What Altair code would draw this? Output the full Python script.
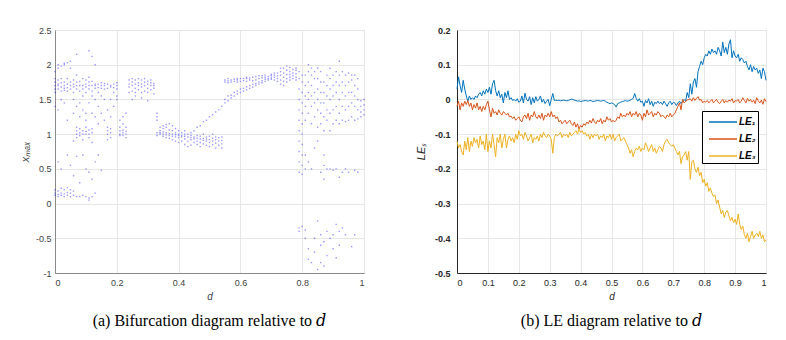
import altair as alt
import pandas as pd

# ---------------- Bifurcation diagram data (columns of x_max per d) ----------------
bif_cols = [
    [1.65,1.7,1.75,1.8,1.6,0.12,0.15,0.2,1.9,1.4],
    [1.65,1.7,1.72,1.78,2.0,1.95,0.1,0.13,0.18,0.6,1.35],
    [1.62,1.68,1.74,1.8,1.98,0.12,0.15,0.22,0.5,1.5],
    [1.63,1.66,1.7,1.75,2.0,2.02,0.1,0.14,0.2,1.45],
    [1.62,1.67,1.72,1.8,2.03,0.12,0.16,0.23,0.7,1.2],
    [1.65,1.7,1.75,1.95,2.05,0.1,0.15,0.2,0.55],
    [1.6,1.68,1.72,1.78,1.5,1.3,0.12,0.18,0.4,0.9],
    [1.65,1.7,1.75,1.85,2.15,1.0,1.05,1.1,0.95,0.1,0.68,1.4],
    [1.62,1.7,1.76,1.45,1.02,1.08,0.98,0.1,0.3,1.25],
    [1.65,1.7,1.8,1.55,1.0,1.05,0.92,0.12,0.7,1.35],
    [1.6,1.68,1.72,1.78,1.3,1.0,1.04,1.1,0.1,0.5,1.2],
    [1.65,1.7,1.75,1.82,2.2,1.0,1.06,0.95,0.05,0.08,0.45,1.45],
    [1.62,1.7,1.76,2.12,1.02,1.08,0.88,0.1,0.35,1.3,1.55],
    [1.66,1.7,1.72,2.0,1.5,0.15,0.6,1.25],
    [1.67,1.72,1.6,1.4,1.15,0.7],
    [1.66,1.7,1.74,1.55,1.3,0.48],
    [1.65,1.7,1.73,1.5,1.2],
    [1.66,1.72,1.0,1.05,1.1,0.92,1.35],
    [1.68,1.7,1.02,1.08,0.95,1.5,1.25],
    [1.67,1.72,1.6,1.4],
    [1.65,1.7,1.74,1.5,1.55],
    [1.0,1.05,1.1,1.2,0.98],
    [0.98,1.02,1.06,1.15,1.25],
    [1.0,1.04,1.1,1.3,0.95],
    [1.6,1.68,1.72,1.78],
    [1.62,1.7,1.75,1.8,1.5],
    [1.6,1.66,1.72,1.78,1.55],
    [1.64,1.7,1.74,1.8],
    [1.6,1.68,1.72,1.78,1.52],
    [1.62,1.7,1.75,1.8],
    [1.6,1.66,1.72,1.76,1.48],
    [1.64,1.7,1.74,1.78],
    [1.66,1.7,1.73,1.58],
    [1.2,1.25,1.3,1.02,0.98],
    [1.0,1.02,1.05,1.1],
    [0.97,1.0,1.03,1.08,1.12],
    [0.95,0.99,1.02,1.1,1.14],
    [0.94,0.98,1.01,1.06,1.15],
    [0.92,0.97,1.0,1.05,1.12],
    [0.9,0.96,0.99,1.02,1.08],
    [0.88,0.95,0.98,1.0,1.05],
    [0.9,0.96,0.98,1.02],
    [0.85,0.93,0.97,1.0,1.05],
    [0.82,0.9,0.96,1.0],
    [0.84,0.92,0.95,0.98,1.02],
    [0.88,0.93,0.96,1.05],
    [0.85,0.9,0.94,0.98,1.1],
    [0.82,0.88,0.93,0.97,1.12],
    [0.86,0.91,0.94,1.0,1.18],
    [0.84,0.9,0.93,0.96,1.2],
    [0.82,0.88,0.92,0.97,1.25],
    [0.85,0.9,0.94,1.0,1.28],
    [0.8,0.87,0.92,0.96,1.32],
    [0.84,0.9,0.95,1.35],
    [0.8,0.86,0.91,0.96,1.4],
    [1.45,1.5,1.75,1.78],
    [1.48,1.55,1.74,1.77,1.8],
    [1.52,1.56,1.75,1.78],
    [1.55,1.6,1.76,1.79],
    [1.58,1.62,1.75,1.78,1.8],
    [1.6,1.65,1.76,1.8],
    [1.62,1.66,1.77,1.8],
    [1.64,1.68,1.76,1.8,1.82],
    [1.66,1.7,1.78,1.81],
    [1.68,1.72,1.77,1.82],
    [1.7,1.73,1.78,1.83],
    [1.72,1.75,1.8,1.84],
    [1.74,1.77,1.81,1.84],
    [1.76,1.79,1.82,1.85],
    [1.78,1.8,1.83],
    [1.79,1.81,1.84,1.86],
    [1.78,1.82,1.85,1.88],
    [1.76,1.8,1.84,1.88],
    [1.72,1.78,1.85,1.9,1.95],
    [1.7,1.76,1.82,1.88,1.95],
    [1.75,1.8,1.86,1.92,1.98],
    [1.78,1.82,1.86,1.9,1.96],
    [1.8,1.84,1.88,1.93],
    [1.78,1.82,1.87,1.92,1.95],
    [0.45,0.6,0.75,0.9,1.05,1.2,1.35,1.5,1.65,1.8,1.9,-0.35,-0.4],
    [0.42,0.55,0.7,0.85,1.0,1.15,1.3,1.45,1.6,1.75,1.85,-0.33],
    [1.2,1.4,1.55,1.7,1.85,0.5,0.7,-0.38,-0.5],
    [1.3,1.5,1.6,1.75,1.9,2.0,0.6,-0.65,-0.8],
    [1.15,1.4,1.55,1.7,1.85,1.95,0.5,-0.85],
    [1.25,1.45,1.6,1.8,1.9,0.8,-0.5,-0.7],
    [1.1,1.35,1.5,1.65,1.8,1.95,0.9,-0.25,-0.95],
    [1.15,1.3,1.45,1.6,1.75,1.9,0.45,-0.45,-0.6,-0.85],
    [1.05,1.25,1.45,1.6,1.75,0.55,0.7,0.35,-0.55,-0.9],
    [1.2,1.35,1.55,1.7,1.85,0.5,-0.4,-0.75],
    [1.05,1.3,1.5,1.65,1.8,1.95,0.5,-0.5],
    [1.15,1.35,1.55,1.7,1.85,0.48,-0.45,-0.65],
    [1.2,1.4,1.6,1.75,1.9,0.5,-0.3,-0.78],
    [1.15,1.3,1.5,1.7,1.85,2.05,0.38,-0.4,-0.6],
    [1.2,1.4,1.6,1.75,1.9,0.45,-0.35],
    [1.18,1.35,1.55,1.7,1.85,0.5,-0.45],
    [1.2,1.4,1.6,1.75,1.88,0.45],
    [1.25,1.45,1.6,1.78,1.85,-0.62],
    [1.2,1.4,1.55,1.7,1.85,0.48,-0.45],
    [1.22,1.35,1.5,1.65,1.8,0.45],
    [1.25,1.32,1.4,1.48],
    [1.28,1.35,1.42,1.5],
]

# ---------------- Lyapunov exponents (d step 0.005) ----------------
le1 = [0.03,0.065,0.04,0.02,0.055,0.03,0.01,-0.005,0.01,0.0,0.005,
       0.0,0.01,0.005,0.015,0.02,0.01,0.025,0.015,0.03,0.02,
       0.035,0.015,0.045,0.055,0.025,0.01,0.025,0.005,0.015,-0.01,
       0.02,0.005,0.025,0.0,0.005,-0.003,0.0,-0.005,0.002,-0.008,
       -0.005,0.01,-0.01,0.018,0.0,-0.005,0.008,-0.015,0.005,-0.01,
       0.008,-0.005,0.0,0.01,-0.008,0.0,-0.012,-0.005,0.0,-0.018,
       0.0,0.017,-0.003,-0.002,-0.003,-0.002,-0.004,-0.003,-0.002,-0.003,
       -0.004,-0.003,-0.001,0.001,0.0,-0.002,-0.003,-0.005,-0.004,-0.006,
       -0.005,-0.004,-0.003,-0.004,-0.005,-0.003,-0.004,-0.006,-0.005,-0.004,
       -0.003,-0.004,-0.005,-0.004,-0.003,-0.005,-0.008,-0.01,-0.012,-0.01,
       -0.012,-0.015,-0.022,-0.012,-0.01,-0.008,-0.006,-0.005,-0.003,-0.005,
       -0.004,-0.002,0.0,0.003,0.017,0.003,-0.005,0.002,-0.008,-0.005,
       -0.02,-0.003,-0.01,0.002,-0.015,-0.005,-0.02,-0.008,-0.012,-0.005,
       -0.012,-0.008,-0.015,-0.005,-0.012,-0.02,-0.01,-0.005,-0.015,-0.008,
       -0.01,-0.018,-0.01,-0.005,-0.012,-0.005,0.0,-0.005,0.02,0.005,
       0.045,0.015,0.05,0.06,0.035,0.08,0.095,0.11,0.1,0.12,
       0.13,0.125,0.14,0.13,0.145,0.135,0.14,0.13,0.15,0.14,
       0.125,0.165,0.135,0.15,0.13,0.16,0.172,0.12,0.14,0.125,
       0.12,0.13,0.11,0.12,0.115,0.105,0.11,0.095,0.085,0.1,
       0.08,0.095,0.085,0.09,0.075,0.085,0.06,0.09,0.08,0.055]

le2 = [-0.02,-0.005,-0.03,-0.01,-0.02,-0.005,-0.015,-0.003,-0.02,-0.01,-0.03,
       -0.015,-0.025,-0.01,-0.03,-0.02,-0.035,-0.02,-0.03,-0.015,-0.005,
       -0.03,-0.05,-0.025,-0.04,-0.035,-0.045,-0.03,-0.04,-0.045,-0.035,
       -0.04,-0.045,-0.04,-0.05,-0.048,-0.055,-0.05,-0.06,-0.055,-0.05,
       -0.06,-0.065,-0.05,-0.045,-0.055,-0.04,-0.06,-0.045,-0.05,-0.035,
       -0.05,-0.055,-0.045,-0.055,-0.04,-0.06,-0.045,-0.05,-0.04,-0.05,
       -0.035,-0.05,-0.045,-0.055,-0.05,-0.065,-0.06,-0.07,-0.065,-0.06,
       -0.07,-0.065,-0.06,-0.07,-0.075,-0.065,-0.08,-0.07,-0.085,-0.075,
       -0.08,-0.07,-0.075,-0.065,-0.07,-0.06,-0.068,-0.055,-0.065,-0.07,
       -0.06,-0.065,-0.055,-0.07,-0.06,-0.065,-0.05,-0.06,-0.055,-0.065,
       -0.06,-0.065,-0.06,-0.05,-0.055,-0.04,-0.05,-0.045,-0.05,-0.04,
       -0.045,-0.035,-0.05,-0.04,-0.045,-0.035,-0.05,-0.04,-0.045,-0.06,
       -0.04,-0.05,-0.03,-0.045,-0.04,-0.035,-0.05,-0.04,-0.045,-0.035,
       -0.04,-0.05,-0.045,-0.05,-0.055,-0.045,-0.05,-0.04,-0.05,-0.045,
       -0.04,-0.03,-0.02,-0.01,-0.03,0.0,-0.01,-0.005,-0.002,0.0,
       0.002,-0.005,0.005,-0.003,0.003,0.008,-0.002,0.0,-0.01,-0.005,
       -0.008,-0.003,-0.01,-0.005,0.0,-0.01,-0.005,0.0,-0.008,-0.012,
       -0.005,0.0,-0.01,-0.003,-0.008,-0.002,-0.005,0.002,-0.01,-0.003,
       -0.005,0.0,-0.01,-0.005,0.005,-0.003,-0.01,0.003,-0.005,0.0,
       -0.008,-0.002,-0.012,0.005,-0.004,-0.01,-0.002,-0.014,0.002,-0.006]

le3 = [-0.12,-0.14,-0.13,-0.15,-0.16,-0.12,-0.145,-0.11,-0.15,-0.12,-0.135,
       -0.11,-0.125,-0.115,-0.14,-0.105,-0.13,-0.12,-0.145,-0.1,-0.15,
       -0.12,-0.14,-0.1,-0.13,-0.165,-0.11,-0.125,-0.1,-0.14,-0.115,
       -0.1,-0.14,-0.115,-0.105,-0.12,-0.11,-0.125,-0.1,-0.115,-0.09,
       -0.105,-0.1,-0.115,-0.095,-0.105,-0.12,-0.11,-0.1,-0.125,-0.11,
       -0.115,-0.105,-0.12,-0.1,-0.11,-0.095,-0.105,-0.11,-0.1,-0.105,
       -0.115,-0.155,-0.11,-0.1,-0.105,-0.1,-0.095,-0.11,-0.1,-0.105,
       -0.1,-0.11,-0.095,-0.105,-0.1,-0.095,-0.09,-0.1,-0.085,-0.095,
       -0.09,-0.1,-0.095,-0.105,-0.1,-0.115,-0.1,-0.11,-0.1,-0.105,
       -0.1,-0.115,-0.105,-0.11,-0.1,-0.12,-0.105,-0.11,-0.1,-0.115,
       -0.1,-0.12,-0.11,-0.105,-0.1,-0.12,-0.115,-0.11,-0.12,-0.13,
       -0.14,-0.155,-0.145,-0.165,-0.15,-0.14,-0.145,-0.135,-0.15,-0.14,
       -0.145,-0.125,-0.135,-0.15,-0.14,-0.13,-0.15,-0.14,-0.155,-0.145,
       -0.135,-0.14,-0.15,-0.13,-0.12,-0.115,-0.125,-0.13,-0.135,-0.13,
       -0.14,-0.15,-0.16,-0.15,-0.185,-0.165,-0.16,-0.15,-0.175,-0.15,
       -0.23,-0.18,-0.175,-0.2,-0.21,-0.195,-0.22,-0.21,-0.24,-0.23,
       -0.25,-0.24,-0.265,-0.255,-0.27,-0.28,-0.275,-0.3,-0.29,-0.31,
       -0.33,-0.32,-0.34,-0.325,-0.32,-0.335,-0.35,-0.34,-0.355,-0.345,
       -0.36,-0.33,-0.36,-0.375,-0.365,-0.39,-0.4,-0.385,-0.41,-0.395,
       -0.38,-0.4,-0.39,-0.385,-0.395,-0.38,-0.4,-0.39,-0.41,-0.405]

series_names = ["LE\u2081", "LE\u2082", "LE\u2083"]
series_colors = ["#0072BD", "#D95319", "#EDB120"]

left_xticks = [0, 0.2, 0.4, 0.6, 0.8, 1]
left_yticks = [-1, -0.5, 0, 0.5, 1, 1.5, 2, 2.5]
right_xticks = [0, 0.1, 0.2, 0.3, 0.4, 0.5, 0.6, 0.7, 0.8, 0.9, 1]
right_yticks = [-0.5, -0.4, -0.3, -0.2, -0.1, 0, 0.1, 0.2]

# ---------------- tables ----------------
bif_rows = []
for i, col in enumerate(bif_cols):
    d = i / 100
    for v in col:
        bif_rows.append({"d": d, "x": v})
bif_df = pd.DataFrame(bif_rows)

le_rows = []
for name, vals in zip(series_names, [le1, le2, le3]):
    for i, v in enumerate(vals):
        le_rows.append({"d": i * 0.005, "v": v, "s": name})
le_df = pd.DataFrame(le_rows)

FONT = "Liberation Sans"
W, H = 309, 243
lbl = "'' + datum.value"

def caption(text):
    return alt.TitleParams(text, orient="bottom", anchor="middle",
                           font="Liberation Serif, DejaVu Serif",
                           fontSize=16, fontWeight="normal", color="#000000", offset=12)

left = alt.Chart(bif_df).mark_point(shape="square", filled=True, size=2, color="#0000ff",
                                    opacity=0.4).encode(
    x=alt.X("d:Q", scale=alt.Scale(domain=[0, 1], nice=False, zero=False),
            axis=alt.Axis(values=left_xticks, labelExpr=lbl, title="d", titleFontStyle="italic",
                          titleFontWeight="normal", titleFontSize=10, titleColor="#404040",
                          titlePadding=4, labelFontSize=9, labelColor="#404040", labelPadding=5,
                          ticks=False, domainColor="#8a8a8a", gridColor="#e6e6e6", labelFont=FONT,
                          titleFont=FONT)),
    y=alt.Y("x:Q", scale=alt.Scale(domain=[-1, 2.5], nice=False, zero=False),
            axis=alt.Axis(values=left_yticks, labelExpr=lbl, title="x\u2098\u2090\u2093",
                          titleFontStyle="italic", titleFontWeight="normal", titleFontSize=11,
                          titleColor="#404040", titlePadding=5, labelFontSize=9,
                          labelColor="#404040", labelPadding=4, ticks=False,
                          domainColor="#8a8a8a", gridColor="#e6e6e6", labelFont=FONT,
                          titleFont=FONT)),
).properties(width=W, height=H, view=alt.ViewBackground(stroke="#8a8a8a"),
             title=caption("(a) Bifurcation diagram relative to \U0001D451"))

right = alt.Chart(le_df).mark_line(strokeWidth=1).encode(
    x=alt.X("d:Q", scale=alt.Scale(domain=[0, 1], nice=False, zero=False),
            axis=alt.Axis(values=right_xticks, labelExpr=lbl, title="d", titleFontStyle="italic",
                          titleFontWeight="normal", titleFontSize=10, titleColor="#262626",
                          titlePadding=4, labelFontSize=9, labelColor="#262626", labelPadding=5,
                          ticks=False, domainColor="#262626", gridColor="#e6e6e6", labelFont=FONT,
                          titleFont=FONT)),
    y=alt.Y("v:Q", scale=alt.Scale(domain=[-0.5, 0.2], nice=False, zero=False),
            axis=alt.Axis(values=right_yticks, labelExpr=lbl, title="LE\u209B",
                          titleFontStyle="italic", titleFontWeight="normal", titleFontSize=11,
                          titleColor="#262626", titlePadding=8, labelFontSize=9,
                          labelFontWeight="bold", labelColor="#262626", labelPadding=7,
                          ticks=False, domainColor="#262626", gridColor="#e6e6e6",
                          labelFont=FONT, titleFont=FONT)),
    color=alt.Color("s:N", sort=series_names,
                    scale=alt.Scale(domain=series_names, range=series_colors),
                    legend=alt.Legend(title=None, orient="none", legendX=647, legendY=81,
                                      symbolType="M-1.75,0H1.75", symbolSize=256,
                                      symbolStrokeWidth=1.5, symbolOffset=10,
                                      labelFont=FONT, labelFontSize=10, labelFontStyle="italic",
                                      labelFontWeight="bold", labelColor="#000000",
                                      strokeColor="#000000", fillColor="#ffffff", padding=2,
                                      rowPadding=3, cornerRadius=0, labelOffset=7)),
    order=alt.Order("d:Q"),
).properties(width=W, height=H, view=alt.ViewBackground(stroke="#cccccc"),
             title=caption("(b) LE diagram relative to \U0001D451"))

chart = alt.hconcat(left, right, spacing=48).properties(
    padding={"left": 10, "top": 17, "right": 5, "bottom": 5},
    background="#ffffff",
).configure(font=FONT)

chart.save("out.html", embed_options={"renderer": "svg", "actions": False})
